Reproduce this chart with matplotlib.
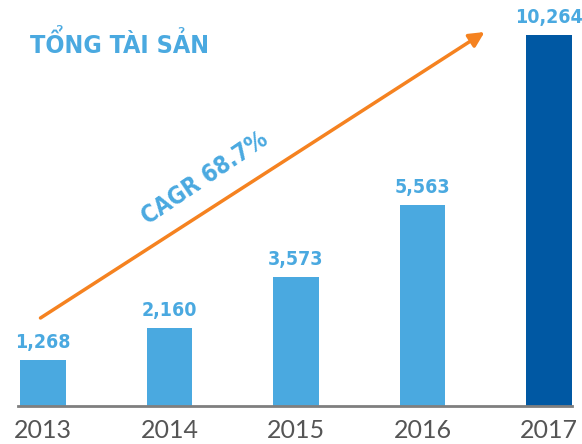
import matplotlib
matplotlib.use("Agg")
import matplotlib.pyplot as plt

# du lieu
nam = ["2013", "2014", "2015", "2016", "2017"]
tong_tai_san = [1268, 2160, 3573, 5563, 10264]
mau_cot = ["#4AA9E0", "#4AA9E0", "#4AA9E0", "#4AA9E0", "#0058A3"]

tieu_de = "TỔNG TÀI SẢN"
nhan_cagr = "CAGR 68.7%"
# mui ten CAGR (toa do du lieu)
mt_dau = (-0.02, 2435)
mt_cuoi = (3.49, 10347)

xanh = "#4AA9E0"
cam = "#F58220"
font_hep = ["DejaVu Sans"]
font_so = ["Lato", "DejaVu Sans"]

fig = plt.figure(figsize=(5.82, 4.44), dpi=100)
ax = fig.add_axes([0, 38 / 444, 1, 406 / 444])

x = list(range(len(nam)))
ax.bar(x, tong_tai_san, width=0.36, color=mau_cot)

for xi, v in zip(x, tong_tai_san):
    ax.text(xi, v + 220, f"{v:,}", ha="center", va="bottom", color=xanh,
            fontsize=14, fontweight="bold", family=font_hep, fontstretch="condensed")

ax.set_xlim(-0.34, 4.26)
ax.set_ylim(0, 11232)
ax.axhline(0, xmin=18 / 582, xmax=572 / 582, color="#7F7F7F", lw=2, clip_on=False)

ax.set_xticks(x)
ax.set_xticklabels(nam, family=font_so, fontsize=18, color="#555555")
ax.tick_params(axis="x", length=0, pad=9)
ax.set_yticks([])
for s in ax.spines.values():
    s.set_visible(False)

ax.annotate("", xy=mt_cuoi, xytext=mt_dau,
            arrowprops=dict(arrowstyle="-|>,head_length=0.9,head_width=0.45",
                            color=cam, lw=2.5, shrinkA=0, shrinkB=0))
ax.text(1.28, 6300, nhan_cagr, rotation=34, ha="center", va="center",
        rotation_mode="anchor", color=xanh, fontsize=17, fontweight="bold",
        family=font_hep, fontstretch="condensed")

fig.text(30 / 582, 1 - 44 / 444, tieu_de, ha="left", va="center", color=xanh,
         fontsize=18, fontweight="bold", family=font_hep, fontstretch="condensed")

fig.savefig("out.png", dpi=100)
